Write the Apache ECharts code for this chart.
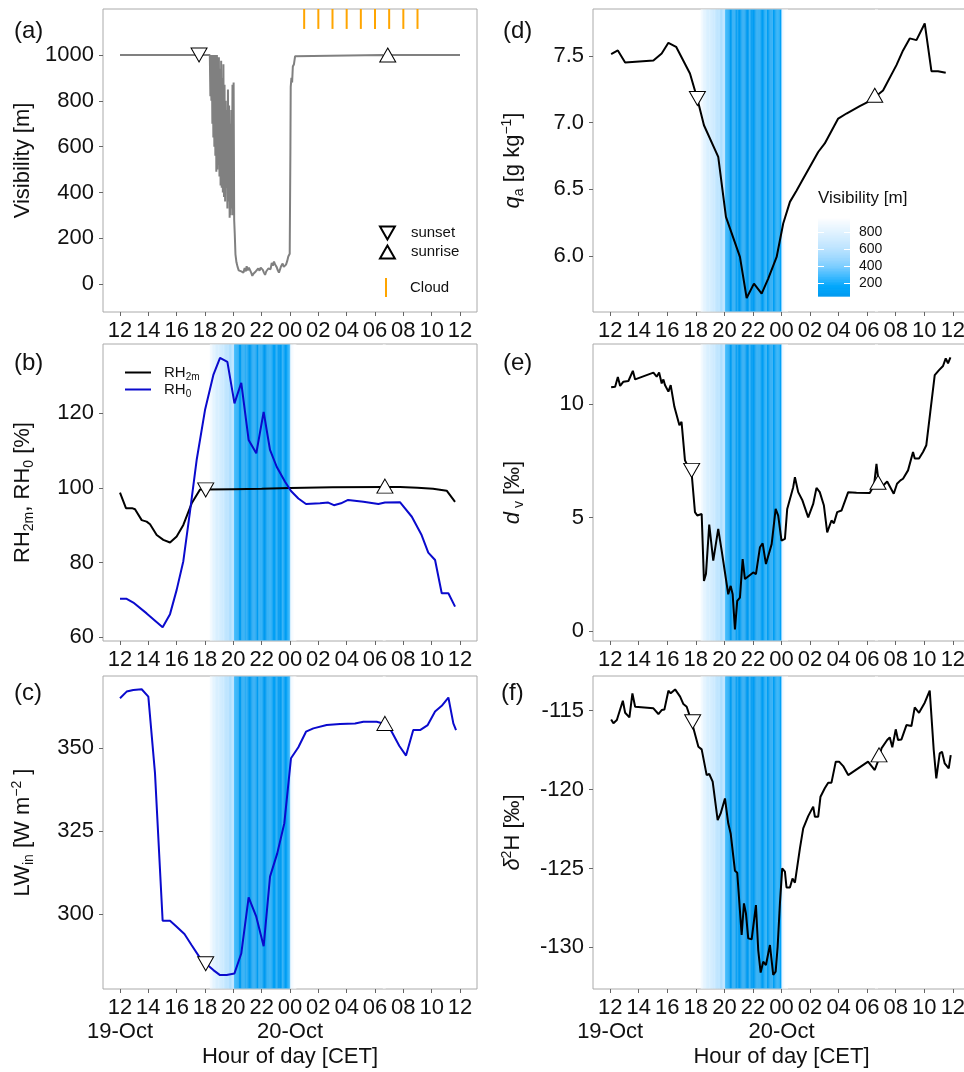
<!DOCTYPE html>
<html>
<head>
<meta charset="utf-8">
<script src="https://cdn.jsdelivr.net/npm/echarts@6/dist/echarts.min.js"></script>
<style>
  html, body { margin: 0; padding: 0; background: #fff; }
  #chart { width: 964px; height: 1072px; }
</style>
</head>
<body>
<div id="chart"></div>
<script>
// Time is expressed in hours after 19-Oct 12:00 CET.
const hourTicks = [0, 2, 4, 6, 8, 10, 12, 14, 16, 18, 20, 22, 24];
const hourLabels = ['12', '14', '16', '18', '20', '22', '00', '02', '04', '06', '08', '10', '12'];
const dateTickHours = [0, 12];
const dateLabels = ['19-Oct', '20-Oct'];

// Visibility [m]
const visibility = [
  [0, 1000], [6.34, 1000], [6.38, 820], [6.41, 1000], [6.45, 800], [6.48, 1000], [6.52, 700],
  [6.55, 990], [6.59, 640], [6.62, 1000], [6.66, 600], [6.70, 1000], [6.73, 560], [6.77, 980],
  [6.80, 490], [6.84, 1000], [6.87, 500], [6.91, 960], [6.95, 520], [6.98, 990], [7.02, 470],
  [7.06, 940], [7.10, 430], [7.14, 975], [7.18, 420], [7.22, 900], [7.26, 400], [7.30, 960],
  [7.34, 380], [7.38, 870], [7.42, 360], [7.46, 800], [7.50, 420], [7.54, 760], [7.58, 330],
  [7.62, 850], [7.66, 360], [7.70, 780], [7.74, 290], [7.78, 700], [7.82, 300], [7.86, 760],
  [7.90, 330], [7.94, 870], [7.98, 300], [8.02, 880], [8.06, 280], [8.10, 220], [8.15, 130],
  [8.22, 95], [8.30, 75], [8.38, 60], [8.47, 68], [8.56, 55], [8.64, 62], [8.71, 50], [8.80, 70],
  [8.88, 55], [8.94, 78], [9.02, 60], [9.10, 72], [9.18, 65], [9.26, 50], [9.34, 36], [9.42, 45],
  [9.50, 40], [9.58, 55], [9.66, 48], [9.76, 68], [9.85, 58], [9.93, 72], [10.00, 80], [10.08, 62],
  [10.16, 50], [10.24, 40], [10.32, 55], [10.40, 60], [10.47, 68], [10.55, 75], [10.63, 65],
  [10.71, 92], [10.79, 80], [10.87, 98], [10.95, 85], [11.06, 74], [11.14, 60], [11.22, 50],
  [11.29, 55], [11.37, 78], [11.48, 90], [11.56, 75], [11.64, 70], [11.72, 85], [11.80, 100],
  [11.88, 120], [11.98, 132], [12.03, 600], [12.05, 860], [12.10, 900], [12.15, 880], [12.20, 950],
  [12.28, 960], [12.36, 995], [12.45, 1000], [18.55, 1000], [18.65, 975], [18.75, 1000], [24, 1000]
];

// Hours with cloud observations
const cloudHours = [13, 14, 15, 16, 17, 18, 19, 20, 21];

// Relative humidity at 2 m and at the surface [%]
const rh2m = [
  [0, 98.75], [0.42, 94.6], [0.85, 94.6], [1.06, 94.3], [1.53, 91.4], [1.88, 91.0], [2.12, 90.3],
  [2.59, 87.4], [3.06, 86.1], [3.53, 85.4], [4.0, 87.0], [4.47, 90.1], [5.06, 95.9], [5.65, 99.6],
  [6.05, 99.6], [8, 99.7], [10, 99.8], [12, 100.0], [15, 100.2], [18.7, 100.3], [19.76, 100.3],
  [21, 100.1], [22.1, 99.8], [23.06, 99.3], [23.65, 96.3]
];
const rh0 = [
  [0, 70.3], [0.47, 70.3], [0.94, 69.3], [1.88, 66.4], [3.01, 62.7], [3.53, 66.2], [4.0, 72.7],
  [4.47, 80.4], [4.94, 93.7], [5.41, 107.5], [6.0, 120.9], [6.59, 130.3], [7.06, 134.9],
  [7.58, 133.8], [8.08, 122.7], [8.56, 128.2], [9.08, 112.9], [9.62, 109.3], [10.14, 120.4],
  [10.59, 110.2], [11.06, 105.7], [11.65, 101.7], [12.07, 99.2], [12.59, 97.2], [13.13, 95.7],
  [14.12, 95.9], [14.7, 96.1], [15.1, 95.4], [15.6, 95.9], [16.1, 96.8], [17.18, 96.3],
  [18.24, 95.7], [18.7, 96.1], [19.76, 96.2], [20.6, 92.3], [21.29, 87.4], [21.76, 82.7],
  [22.24, 80.7], [22.71, 71.8], [23.18, 71.8], [23.65, 68.2]
];

// Incoming longwave radiation [W m-2]
const lwIn = [
  [0, 365.1], [0.47, 367.1], [0.94, 367.6], [1.53, 367.8], [2.0, 365.6], [2.47, 342.5], [3.01, 298.0],
  [3.53, 298.0], [4.0, 296.2], [4.55, 294.0], [5.06, 290.6], [5.6, 287.1], [6.05, 285.1], [6.59, 283.1],
  [7.06, 281.6], [7.53, 281.6], [8.08, 282.1], [8.56, 288.1], [9.08, 305.0], [9.62, 299.2],
  [10.14, 290.3], [10.59, 311.3], [11.1, 318.3], [11.6, 327.4], [12.07, 347.0], [12.59, 350.3],
  [13.13, 355.0], [13.65, 356.0], [14.59, 357.0], [15.53, 357.3], [16.59, 357.5], [17.18, 358.0],
  [18.12, 358.0], [18.7, 357.3], [19.18, 355.0], [19.72, 350.7], [20.19, 347.8], [20.7, 355.5],
  [21.18, 355.5], [21.72, 357.0], [22.24, 361.1], [22.71, 362.8], [23.18, 365.3], [23.53, 357.5],
  [23.72, 355.5]
];

// Specific humidity [g kg-1]
const qa = [
  [0.07, 7.512], [0.54, 7.54], [1.05, 7.45], [3.03, 7.465], [3.61, 7.517], [4.08, 7.597],
  [4.62, 7.567], [5.59, 7.368], [6.1, 7.18], [6.57, 6.98], [7.57, 6.744], [8.11, 6.295],
  [9.09, 5.995], [9.56, 5.688], [10.07, 5.795], [10.61, 5.72], [11.07, 5.833], [11.66, 5.995],
  [12.12, 6.245], [12.59, 6.407], [13.05, 6.49], [13.4, 6.557], [13.99, 6.669], [14.57, 6.78],
  [15.03, 6.844], [15.97, 7.03], [16.55, 7.068], [17.48, 7.123], [18.06, 7.156], [18.53, 7.19],
  [19.11, 7.24], [20.05, 7.43], [20.51, 7.54], [20.98, 7.63], [21.45, 7.617], [22.03, 7.742],
  [22.5, 7.385], [22.96, 7.385], [23.5, 7.373]
];

// Deuterium excess of vapour [permil]
const dv = [
  [0.07, 10.74], [0.35, 10.77], [0.54, 11.2], [0.7, 10.8], [0.93, 10.99], [1.28, 11.02], [1.59, 11.47],
  [1.75, 11.09], [3.03, 11.39], [3.26, 11.21], [3.43, 11.39], [3.61, 10.91], [3.73, 11.09],
  [3.84, 10.84], [4.08, 10.55], [4.24, 10.84], [4.5, 9.88], [4.85, 9.07], [5.0, 9.22], [5.24, 7.52],
  [5.71, 6.93], [5.94, 5.24], [6.1, 5.09], [6.41, 5.16], [6.57, 2.21], [6.71, 2.51], [6.94, 4.69],
  [7.22, 3.1], [7.57, 4.5], [7.81, 3.54], [8.27, 1.62], [8.44, 1.99], [8.58, 1.62], [8.74, 0.07],
  [8.9, 1.33], [9.09, 1.47], [9.28, 3.17], [9.44, 2.29], [9.56, 2.21], [10.02, 2.58], [10.21, 2.51],
  [10.49, 3.69], [10.68, 3.86], [10.91, 2.95], [11.31, 3.83], [11.59, 5.38], [11.77, 5.09],
  [12.0, 3.98], [12.24, 4.06], [12.4, 5.38], [12.82, 6.34], [12.94, 6.78], [13.17, 6.12],
  [13.47, 5.75], [13.87, 5.01], [14.22, 5.6], [14.45, 6.31], [14.68, 6.12], [14.97, 5.53],
  [15.2, 4.35], [15.5, 4.87], [15.67, 4.75], [15.9, 5.24], [16.2, 5.31], [16.67, 6.12],
  [17.25, 6.09], [18.18, 6.08], [18.48, 6.42], [18.65, 7.37], [18.76, 6.78], [19.0, 6.34],
  [19.4, 6.59], [19.53, 6.56], [19.86, 6.05], [20.09, 6.49], [20.33, 6.64], [20.51, 6.71],
  [20.86, 7.08], [21.21, 7.89], [21.33, 7.6], [21.63, 7.6], [21.91, 7.89], [22.14, 8.19],
  [22.42, 9.66], [22.73, 11.28], [23.03, 11.5], [23.31, 11.68], [23.5, 12.02], [23.66, 11.8],
  [23.83, 12.06]
];

// Hydrogen isotope ratio of vapour [permil]
const d2H = [
  [0.07, -115.55], [0.23, -115.8], [0.47, -115.59], [0.89, -114.37], [1.05, -115.13], [1.35, -115.42],
  [1.56, -113.9], [1.75, -114.75], [3.03, -114.85], [3.38, -115.21], [3.61, -114.96], [3.8, -114.92],
  [4.08, -113.73], [4.24, -113.9], [4.55, -113.65], [4.9, -114.11], [5.13, -114.58], [5.36, -114.75],
  [5.71, -115.7], [6.18, -117.28], [6.41, -117.45], [6.76, -119.08], [6.94, -119.01], [7.18, -119.5],
  [7.53, -121.93], [7.74, -121.51], [8.04, -120.56], [8.27, -122.14], [8.44, -122.78], [8.74, -125.14],
  [8.9, -125.27], [9.21, -129.22], [9.37, -127.21], [9.51, -127.85], [9.67, -129.43], [9.91, -129.49],
  [10.21, -127.32], [10.37, -130.17], [10.54, -131.6], [10.72, -130.91], [10.91, -131.12],
  [11.19, -129.85], [11.42, -131.75], [11.59, -131.54], [11.73, -129.96], [11.89, -127.21],
  [12.05, -124.99], [12.24, -125.2], [12.35, -126.2], [12.59, -126.2], [12.77, -125.63],
  [12.94, -125.9], [13.29, -123.73], [13.52, -122.46], [13.63, -122.56], [13.87, -121.68],
  [14.22, -121.08], [14.34, -121.72], [14.57, -121.72], [14.73, -120.45], [15.03, -119.92],
  [15.27, -119.56], [15.5, -119.56], [15.8, -118.23], [16.03, -118.23], [16.32, -118.51],
  [16.67, -119.08], [18.06, -118.23], [18.53, -118.76], [18.83, -118.02], [19.0, -117.39],
  [19.4, -116.86], [19.58, -116.69], [19.76, -117.32], [20.0, -116.18], [20.16, -116.86],
  [20.4, -116.82], [20.75, -115.91], [21.1, -115.97], [21.33, -114.79], [21.63, -115.13],
  [22.03, -114.49], [22.38, -113.73], [22.66, -117.49], [22.84, -119.29], [23.08, -117.7],
  [23.24, -117.6], [23.43, -118.34], [23.54, -118.38], [23.71, -118.66], [23.85, -117.81]
];

// Sunset / sunrise markers, one point per panel (a)..(f)
const sunsetPoints = [[5.58, 1000], [6.05, 99.5], [6.05, 285.0], [6.11, 7.18], [5.71, 7.08], [5.78, -115.7]];
const sunrisePoints = [[18.9, 1000], [18.7, 100.5], [18.7, 357.5], [18.53, 7.205], [18.76, 6.56], [18.83, -117.8]];

// Visibility colour bar ticks
const visTicks = [200, 400, 600, 800];

// ---------------------------------------------------------------------------
const FONT = '"Liberation Sans", Arial, Helvetica, sans-serif';
const TEXT = '#111';
const BLUE = '#0a0acd';
const VIS_MIN = 45, VIS_MAX = 980;

const cols = [{ left: 103, width: 374 }, { left: 593, width: 377 }];
const rows = [{ top: 9, height: 303 }, { top: 344, height: 297 }, { top: 676, height: 313 }];

// panels: a,b,c in left column; d,e,f in right column
const panelGrid = [[0, 0], [0, 1], [0, 2], [1, 0], [1, 1], [1, 2]];

const grids = panelGrid.map(([c, r]) => ({
  left: cols[c].left, width: cols[c].width, top: rows[r].top, height: rows[r].height,
  show: true, borderColor: '#aaaaaa', borderWidth: 1, backgroundColor: 'transparent',
  containLabel: false, outerBoundsMode: 'none'
}));
// colour bar of the fog legend
grids.push({ left: 818, top: 217, width: 32, height: 79, show: false, containLabel: false, outerBoundsMode: 'none' });

const hiddenLine = { show: false, onZero: false };

function hourAxis(gridIndex, bottomRow) {
  return {
    type: 'value', gridIndex, min: -1.2, max: 25.2, position: 'bottom',
    axisLine: hiddenLine,
    splitLine: { show: false },
    axisTick: { show: true, customValues: hourTicks, length: 4, lineStyle: { color: '#666', width: 1 } },
    axisLabel: {
      show: true, customValues: hourTicks, margin: 7, fontSize: 22, color: TEXT, lineHeight: 24,
      fontFamily: FONT, showMinLabel: true, showMaxLabel: true, hideOverlap: false,
      formatter: (v) => hourLabels[hourTicks.indexOf(v)]
    },
    name: bottomRow ? 'Hour of day [CET]' : '',
    nameLocation: 'middle', nameGap: 57,
    nameTextStyle: { fontSize: 22, color: TEXT, fontFamily: FONT }
  };
}

// second row of x labels with the dates (bottom panels only)
function dateAxis(gridIndex) {
  return {
    type: 'value', gridIndex, min: -1.2, max: 25.2, position: 'bottom', offset: 0,
    axisLine: hiddenLine, axisTick: { show: false }, splitLine: { show: false },
    axisLabel: {
      show: true, customValues: dateTickHours, margin: 31, fontSize: 22, color: TEXT, lineHeight: 24,
      fontFamily: FONT, showMinLabel: true, showMaxLabel: true, hideOverlap: false,
      formatter: (v) => dateLabels[dateTickHours.indexOf(v)]
    }
  };
}

const nameRich = {
  t: { fontSize: 22, lineHeight: 26, color: TEXT, fontFamily: FONT },
  i: { fontSize: 22, lineHeight: 26, color: TEXT, fontFamily: FONT, fontStyle: 'italic' },
  s: { fontSize: 14, lineHeight: 10, color: TEXT, fontFamily: FONT, verticalAlign: 'bottom' },
  p: { fontSize: 14, lineHeight: 10, color: TEXT, fontFamily: FONT, verticalAlign: 'top' }
};

function valueAxis(gridIndex, min, max, ticks, name, fmt) {
  return {
    type: 'value', gridIndex, min, max, position: 'left',
    axisLine: hiddenLine,
    splitLine: { show: false },
    axisTick: { show: true, customValues: ticks, length: 4, lineStyle: { color: '#666', width: 1 } },
    axisLabel: { show: true, customValues: ticks, margin: 9, fontSize: 22, color: TEXT, fontFamily: FONT,
      showMinLabel: true, showMaxLabel: true, formatter: fmt || ((v) => String(v)) },
    name, nameLocation: 'middle', nameRotate: 90, nameGap: 67,
    nameTextStyle: { fontSize: 22, color: TEXT, fontFamily: FONT, rich: nameRich }
  };
}

// x axes 0..5: hours per panel; 6: colour bar; 7, 8: date rows under (c) and (f)
const xAxes = [0, 1, 2, 3, 4, 5].map((g) => hourAxis(g, g === 2 || g === 5));
xAxes.push({ type: 'value', gridIndex: 6, min: 0, max: 1, show: false, axisLine: hiddenLine });
xAxes.push(dateAxis(2));
xAxes.push(dateAxis(5));

const yAxes = [
  valueAxis(0, -122, 1201, [0, 200, 400, 600, 800, 1000], '{t|Visibility [m]}'),
  valueAxis(1, 59, 138.6, [60, 80, 100, 120], '{t|RH}{s|2m}{t|, RH}{s|0}{t| [%]}'),
  valueAxis(2, 277.4, 371.8, [300, 325, 350], '{t|LW}{s|in}{t| [W m}{p|−2}{t| ]}'),
  valueAxis(3, 5.583, 7.85, [6.0, 6.5, 7.0, 7.5], '{i|q}{s|a}{t| [g kg}{p|−1}{t|]}', (v) => v.toFixed(1)),
  valueAxis(4, -0.44, 12.65, [0, 5, 10], '{i|d}{s| v}{t| [‰]}'),
  valueAxis(5, -132.64, -112.8, [-130, -125, -120, -115], '{i|δ}{p|2}{t|H [‰]}')
];
// colour bar axes: white inner ticks on both sides, labels on the right
yAxes.push({
  type: 'value', gridIndex: 6, min: VIS_MIN, max: VIS_MAX, position: 'left', z: 10,
  axisLine: hiddenLine, splitLine: { show: false }, axisLabel: { show: false },
  axisTick: { show: true, inside: true, customValues: visTicks, length: 6, lineStyle: { color: '#ffffff', width: 1 } }
});
yAxes.push({
  type: 'value', gridIndex: 6, min: VIS_MIN, max: VIS_MAX, position: 'right', z: 10,
  axisLine: hiddenLine, splitLine: { show: false },
  axisTick: { show: true, inside: true, customValues: visTicks, length: 6, lineStyle: { color: '#ffffff', width: 1 } },
  axisLabel: { show: true, customValues: visTicks, margin: 9, fontSize: 14, color: TEXT, fontFamily: FONT }
});

// fog bands: each visibility interval coloured by its mean visibility
const fogBands = [];
for (let i = 0; i < visibility.length - 1; i++) {
  const v = (visibility[i][1] + visibility[i + 1][1]) / 2;
  if (v < 1000) fogBands.push([visibility[i][0], visibility[i + 1][0], v]);
}

function fogBandItem(params, api) {
  const cs = params.coordSys;
  const x0 = api.coord([api.value(0), 0])[0];
  const x1 = api.coord([api.value(1), 0])[0];
  return {
    type: 'rect',
    shape: { x: x0, y: cs.y + 0.5, width: Math.max(x1 - x0, 0.7), height: cs.height - 1 },
    style: { fill: api.visual('color') }
  };
}

const series = [];
const colouredSeries = [];

// (a) visibility
series.push({
  name: 'visibility', type: 'line', xAxisIndex: 0, yAxisIndex: 0, data: visibility,
  symbol: 'none', lineStyle: { color: '#808080', width: 2 }, z: 3
});
series.push({
  name: 'Cloud', type: 'custom', xAxisIndex: 0, yAxisIndex: 0,
  data: cloudHours.map((h) => [h]),
  itemStyle: { color: '#FFA500' },
  renderItem: (params, api) => {
    const top = api.coord([api.value(0), 1201]);
    const bot = api.coord([api.value(0), 1114]);
    return { type: 'line', shape: { x1: top[0], y1: top[1], x2: bot[0], y2: bot[1] },
      style: { stroke: '#FFA500', lineWidth: 2 } };
  },
  z: 3
});

// fog shading for panels b..f
[1, 2, 3, 4, 5].forEach((g) => {
  colouredSeries.push(series.length);
  series.push({
    type: 'custom', xAxisIndex: g, yAxisIndex: g, data: fogBands,
    encode: { x: [0, 1] }, renderItem: fogBandItem, clip: true, silent: true, z: 1
  });
});

// panel lines
series.push({ name: 'RH2m', type: 'line', xAxisIndex: 1, yAxisIndex: 1, data: rh2m, symbol: 'none',
  itemStyle: { color: '#000' }, lineStyle: { color: '#000', width: 2 }, z: 3 });
series.push({ name: 'RH0', type: 'line', xAxisIndex: 1, yAxisIndex: 1, data: rh0, symbol: 'none',
  itemStyle: { color: BLUE }, lineStyle: { color: BLUE, width: 2 }, z: 3 });
series.push({ type: 'line', xAxisIndex: 2, yAxisIndex: 2, data: lwIn, symbol: 'none',
  lineStyle: { color: BLUE, width: 2 }, z: 3 });
series.push({ type: 'line', xAxisIndex: 3, yAxisIndex: 3, data: qa, symbol: 'none',
  lineStyle: { color: '#000', width: 2 }, z: 3 });
series.push({ type: 'line', xAxisIndex: 4, yAxisIndex: 4, data: dv, symbol: 'none',
  lineStyle: { color: '#000', width: 2 }, z: 3 });
series.push({ type: 'line', xAxisIndex: 5, yAxisIndex: 5, data: d2H, symbol: 'none',
  lineStyle: { color: '#000', width: 2 }, z: 3 });

// sunset / sunrise markers
const TRI_DOWN = 'path://M0,0L16,0L8,14Z';
const TRI_UP = 'path://M8,0L16,14L0,14Z';
const markerStyle = { color: '#ffffff', borderColor: '#000', borderWidth: 1, opacity: 1 };
[0, 1, 2, 3, 4, 5].forEach((g) => {
  series.push({ name: 'sunset', type: 'scatter', xAxisIndex: g, yAxisIndex: g, data: [sunsetPoints[g]],
    symbol: TRI_DOWN, symbolSize: [16, 14], itemStyle: markerStyle, z: 5, silent: true });
  series.push({ name: 'sunrise', type: 'scatter', xAxisIndex: g, yAxisIndex: g, data: [sunrisePoints[g]],
    symbol: TRI_UP, symbolSize: [16, 14], itemStyle: markerStyle, z: 5, silent: true });
});

// visibility colour bar
const barData = [];
for (let v = VIS_MIN; v < VIS_MAX; v += 5) barData.push([v, Math.min(v + 5, VIS_MAX), v + 2.5]);
colouredSeries.push(series.length);
series.push({
  type: 'custom', xAxisIndex: 6, yAxisIndex: 7, data: barData, encode: { y: [0, 1] }, silent: true,
  renderItem: (params, api) => {
    const cs = params.coordSys;
    const y0 = api.coord([0, api.value(0)])[1];
    const y1 = api.coord([0, api.value(1)])[1];
    return { type: 'rect', shape: { x: cs.x, y: y1, width: cs.width, height: y0 - y1 + 0.6 },
      style: { fill: api.visual('color') } };
  },
  z: 6
});

const legendText = { fontSize: 15, color: TEXT, fontFamily: FONT };

const option = {
  animation: false,
  backgroundColor: '#ffffff',
  textStyle: { fontFamily: FONT },
  grid: grids,
  xAxis: xAxes,
  yAxis: yAxes,
  visualMap: [{
    type: 'continuous', show: false, min: VIS_MIN, max: VIS_MAX, dimension: 2,
    seriesIndex: colouredSeries,
    inRange: { color: ['#009af0', '#00a6fc', '#3cb9ff', '#79ccff', '#a2daff', '#bfe5ff', '#d5eeff', '#eaf6ff', '#ffffff'] },
    outOfRange: { color: '#ffffff' }
  }],
  legend: [
    {
      data: ['sunset', 'sunrise'], orient: 'vertical', left: 379, top: 224, padding: 0,
      itemWidth: 15, itemHeight: 13, itemGap: 1, selectedMode: false,
      textStyle: Object.assign({ lineHeight: 18, padding: [0, 0, 0, 11] }, legendText)
    },
    {
      data: ['Cloud'], orient: 'vertical', left: 385, top: 278, padding: 0,
      icon: 'rect', itemWidth: 2, itemHeight: 19, selectedMode: false,
      textStyle: Object.assign({ padding: [0, 0, 0, 18] }, legendText)
    },
    {
      data: ['RH2m', 'RH0'], orient: 'vertical', left: 125, top: 365, padding: 0,
      icon: 'rect', itemWidth: 26, itemHeight: 2, itemGap: 0, selectedMode: false,
      formatter: (n) => (n === 'RH2m' ? '{t|RH}{s|2m}' : '{t|RH}{s|0}'),
      textStyle: {
        color: TEXT, fontFamily: FONT, padding: [0, 0, 0, 8],
        rich: {
          t: { fontSize: 15, lineHeight: 19, color: TEXT, fontFamily: FONT },
          s: { fontSize: 10, lineHeight: 8, color: TEXT, fontFamily: FONT, verticalAlign: 'bottom' }
        }
      }
    }
  ],
  graphic: [
    // white legend box over the panel behind the colour bar
    { type: 'rect', z: 4, shape: { x: 806, y: 178, width: 120, height: 133 }, style: { fill: '#ffffff' } },
    { type: 'text', z: 100, style: { text: '(a)', x: 14, y: 31, fill: TEXT, font: '24px ' + FONT, textVerticalAlign: 'middle' } },
    { type: 'text', z: 100, style: { text: '(b)', x: 14, y: 363, fill: TEXT, font: '24px ' + FONT, textVerticalAlign: 'middle' } },
    { type: 'text', z: 100, style: { text: '(c)', x: 14, y: 693, fill: TEXT, font: '24px ' + FONT, textVerticalAlign: 'middle' } },
    { type: 'text', z: 100, style: { text: '(d)', x: 503, y: 31, fill: TEXT, font: '24px ' + FONT, textVerticalAlign: 'middle' } },
    { type: 'text', z: 100, style: { text: '(e)', x: 503, y: 363, fill: TEXT, font: '24px ' + FONT, textVerticalAlign: 'middle' } },
    { type: 'text', z: 100, style: { text: '(f)', x: 501, y: 693, fill: TEXT, font: '24px ' + FONT, textVerticalAlign: 'middle' } },
    { type: 'text', z: 100, style: { text: 'Visibility [m]', x: 818, y: 198, fill: TEXT, font: '17px ' + FONT, textVerticalAlign: 'middle' } }
  ],
  series
};

const chart = echarts.init(document.getElementById('chart'), null, { renderer: 'canvas' });
chart.setOption(option);
</script>
</body>
</html>
